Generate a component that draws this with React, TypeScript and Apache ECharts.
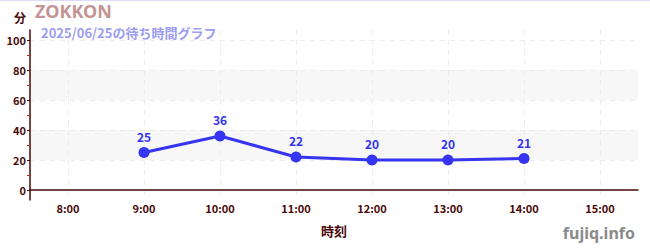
import React, { useEffect, useRef } from "react";
import * as echarts from "echarts";

// Hourly axis categories and the waiting-time readings (minutes)
const hours = ["8:00", "9:00", "10:00", "11:00", "12:00", "13:00", "14:00", "15:00"];
const waitTimes: (number | null)[] = [null, 25, 36, 22, 20, 20, 21, null];
const yTicks = { min: 0, max: 100, interval: 20 };

const title = "ZOKKON";
const subtitle = "2025/06/25の待ち時間グラフ";
const yUnit = "分";
const xName = "時刻";
const credit = "fujiq.info";

const FONT = "'Noto Sans CJK JP', 'Noto Sans', sans-serif";
const MAROON = "#4a0a0a";

export default function App() {
  const ref = useRef<HTMLDivElement>(null);

  useEffect(() => {
    document.body.style.margin = "0";
    if (!ref.current) return;
    const chart = echarts.init(ref.current, undefined, { renderer: "svg" });

    // the frame axis extends slightly past the labelled 0–100 range
    const pxPerUnit = 150 / (yTicks.max - yTicks.min);
    const frameMin = yTicks.min - 10 / pxPerUnit;
    const frameMax = yTicks.max + 10 / pxPerUnit;

    chart.setOption({
      animation: false,
      textStyle: { fontFamily: FONT },
      grid: [
        { left: 30, right: 12, top: 30, bottom: 50 },
        { left: 30, right: 12, top: 40, bottom: 60 },
      ],
      xAxis: [
        {
          type: "category",
          gridIndex: 0,
          data: hours,
          boundaryGap: true,
          name: xName,
          nameLocation: "middle",
          nameGap: 24,
          nameTextStyle: { color: MAROON, fontSize: 13, fontWeight: "bold", fontFamily: FONT },
          axisLine: { lineStyle: { color: MAROON, width: 1.5 } },
          axisTick: { alignWithLabel: true, length: 4, lineStyle: { color: MAROON } },
          axisLabel: { color: MAROON, fontSize: 11, fontWeight: "bold", margin: 2, fontFamily: FONT },
          splitLine: {
            show: true,
            alignWithLabel: true,
            lineStyle: { color: "#ebebeb", type: [5, 5], width: 1 },
          },
        },
        {
          type: "category",
          gridIndex: 1,
          data: hours,
          boundaryGap: true,
          show: false,
        },
      ],
      yAxis: [
        {
          type: "value",
          gridIndex: 0,
          min: frameMin,
          max: frameMax,
          axisLine: { show: true, lineStyle: { color: MAROON, width: 1.5 } },
          axisTick: { show: false },
          axisLabel: { show: false },
          splitLine: { show: false },
        },
        {
          type: "value",
          gridIndex: 1,
          min: yTicks.min,
          max: yTicks.max,
          interval: yTicks.interval,
          axisLine: { show: false },
          axisTick: { show: true, length: 3, lineStyle: { color: MAROON } },
          minorTick: { show: true, splitNumber: 2, length: 3, lineStyle: { color: "#e02020" } },
          axisLabel: { color: MAROON, fontSize: 11, fontWeight: "bold", margin: 4, fontFamily: FONT },
          splitLine: { show: true, lineStyle: { color: "#ebebeb", type: [5, 5], width: 1 } },
          splitArea: { show: true, areaStyle: { color: ["rgba(0,0,0,0)", "#f7f7f7"] } },
        },
      ],
      series: [
        {
          type: "line",
          xAxisIndex: 1,
          yAxisIndex: 1,
          data: waitTimes,
          symbol: "circle",
          symbolSize: 11,
          connectNulls: false,
          lineStyle: { color: "#3535f2", width: 3 },
          itemStyle: { color: "#3535f2" },
          label: {
            show: true,
            position: "top",
            distance: 5,
            color: "#3535ee",
            fontSize: 12,
            fontWeight: "bold",
            fontFamily: FONT,
          },
        },
      ],
      graphic: [
        { type: "rect", shape: { x: 0, y: 0, width: 650, height: 1 }, style: { fill: "#dcdcf6" } },
        {
          type: "text",
          x: 20,
          y: 17,
          style: {
            text: yUnit,
            fill: MAROON,
            font: `bold 12px ${FONT}`,
            textAlign: "center",
            textVerticalAlign: "middle",
          },
        },
        {
          type: "text",
          x: 35,
          y: 11,
          style: {
            text: title,
            fill: "#c39595",
            font: `bold 18px 'Noto Sans', sans-serif`,
            textAlign: "left",
            textVerticalAlign: "middle",
          },
        },
        {
          type: "text",
          x: 41,
          y: 32,
          style: {
            text: subtitle,
            fill: "#9c9cf2",
            font: `bold 13px ${FONT}`,
            textAlign: "left",
            textVerticalAlign: "middle",
          },
        },
        {
          type: "text",
          x: 635,
          y: 233,
          style: {
            text: credit,
            fill: "#8a8a8a",
            font: `bold 16px 'Noto Sans', sans-serif`,
            textAlign: "right",
            textVerticalAlign: "middle",
          },
        },
      ],
    });

    return () => chart.dispose();
  }, []);

  return <div ref={ref} style={{ width: 650, height: 250 }} />;
}
